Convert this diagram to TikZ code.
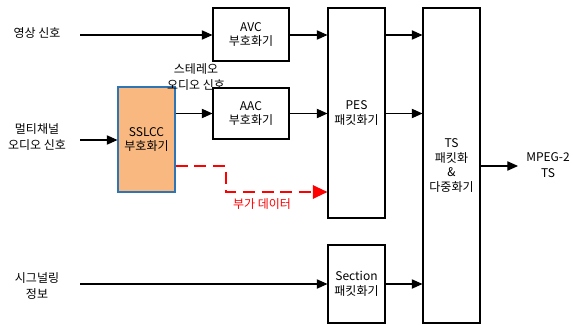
\documentclass[tikz,border=0pt]{standalone}
\usepackage{fontspec}
\setmainfont{Noto Sans CJK KR}
\usepackage{tikz}
\usetikzlibrary{arrows.meta, positioning, calc}
\definecolor{sslccfill}{RGB}{248, 184, 128}
\definecolor{sslccedge}{RGB}{46, 117, 182}
\definecolor{auxred}{RGB}{255, 0, 0}

\tikzset{
    blockbox/.style={draw, line width=0.8pt, fill=white, align=center,
                     inner sep=0pt, font=\fontsize{9}{11}\selectfont},
    sigtext/.style={align=center, inner sep=0pt, font=\fontsize{9}{12}\selectfont},
    flow/.style={line width=0.8pt, -{Triangle[length=8pt,width=7pt]}},
    auxflow/.style={auxred, line width=1.6pt, dash pattern=on 9pt off 5pt,
                    -{Triangle[length=11pt,width=10pt]}}
}

\begin{document}
\begin{tikzpicture}[x=0.75pt, y=-0.75pt]
    \useasboundingbox (0,0) rectangle (573,324);

    % blocks
    \node[blockbox, minimum width=57pt, minimum height=39.75pt] (avc) at (251,34.5) {AVC\\부호화기};
    \node[blockbox, minimum width=57pt, minimum height=38.25pt] (aac) at (251,113.5) {AAC\\부호화기};
    \node[blockbox, fill=sslccfill, draw=sslccedge, minimum width=42.75pt, minimum height=78.75pt] (sslcc) at (146.5,139.5) {SSLCC\\부호화기};
    \node[blockbox, minimum width=42.75pt, minimum height=157.5pt] (pes) at (356.5,113) {PES\\패킷화기};
    \node[blockbox, minimum width=42.75pt, minimum height=58.5pt] (section) at (356.5,284) {Section\\패킷화기};
    \node[blockbox, minimum width=42.75pt, minimum height=236.25pt] (ts) at (451.5,165.5) {TS\\패킷화\\\&\\다중화기};

    % signal labels
    \node[sigtext] (video) at (37,33) {영상 신호};
    \node[sigtext] (mcaudio) at (37,137) {멀티채널\\오디오 신호};
    \node[sigtext] (signal) at (37,286) {시그널링\\정보};
    \node[sigtext] (stereo) at (196,77) {스테레오\\오디오 신호};
    \node[sigtext, text=auxred] (auxdata) at (262,204) {부가 데이터};
    \node[sigtext] (mpegts) at (548,165) {MPEG-2\\TS};

    \coordinate (videoin) at (80,35);
    \coordinate (mcin) at (80,140);
    \coordinate (sigin) at (80,284);
    \coordinate (tsout) at (518,166);
    \coordinate (auxbend) at (226,166);

    % connectors
    \draw[flow] (videoin) -- (videoin -| avc.west);
    \draw[flow] (mcin) -- (mcin -| sslcc.west);
    \draw[flow] (sigin) -- (sigin -| section.west);
    \draw[flow] (sslcc.east |- aac.west) -- (aac.west);
    \draw[flow] (videoin -| avc.east) -- (videoin -| pes.west);
    \draw[flow] (aac.east) -- (aac.east -| pes.west);
    \draw[flow] (videoin -| pes.east) -- (videoin -| ts.west);
    \draw[flow] (aac.east -| pes.east) -- (aac.east -| ts.west);
    \draw[flow] (sigin -| section.east) -- (sigin -| ts.west);
    \draw[flow] (ts.east |- tsout) -- (tsout);
    \draw[auxflow] (sslcc.east |- auxbend) -- (auxbend) -- ++(0,26) -- (pes.west |- 0,192);
\end{tikzpicture}
\end{document}
